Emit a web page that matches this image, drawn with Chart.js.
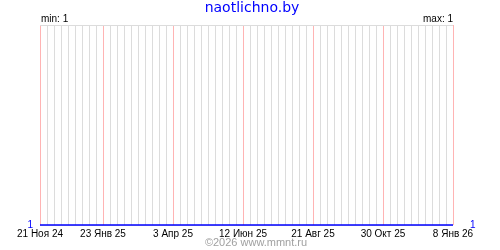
<!DOCTYPE html>
<html>
<head>
<meta charset="utf-8">
<script src="https://cdn.jsdelivr.net/npm/chart.js@4"></script>
<style>
  html, body { margin: 0; padding: 0; background: #fff; }
  #wrap { width: 500px; height: 250px; }
</style>
</head>
<body>
<div id="wrap"><canvas id="chart" width="500" height="250"></canvas></div>
<script>
// Data (x = days since 21 Nov 2024)
const tickLabels = ['21 Ноя 24', '23 Янв 25', '3 Апр 25', '12 Июн 25', '21 Авг 25', '30 Окт 25', '8 Янв 26'];
const tickDays = [0, 63, 133, 203, 273, 343, 413];
const seriesDays = [0, 63, 133, 203, 273, 343, 413];
const seriesValues = [1, 1, 1, 1, 1, 1, 1];
const titleText = 'naotlichno.by';
const minText = 'min: 1';
const maxText = 'max: 1';
const footerText = '©2026 www.mmnt.ru';

const BLUE = '#0000ff';
const GRID = '#dcdcdc';
const PINK = '#ffb4b4';

Chart.defaults.font.family = '"Liberation Sans", Arial, sans-serif';
Chart.defaults.font.size = 10;
Chart.defaults.color = '#000';

// extra texts around the plot
const textPlugin = {
  id: 'texts',
  afterDraw(chart) {
    const { ctx, chartArea } = chart;
    ctx.save();
    ctx.textBaseline = 'middle';
    ctx.font = '14px "DejaVu Sans", sans-serif';
    ctx.fillStyle = BLUE;
    ctx.textAlign = 'center';
    ctx.fillText(titleText, 252, 8);

    ctx.font = '10px "Liberation Sans", Arial, sans-serif';
    ctx.fillStyle = '#000';
    ctx.textAlign = 'left';
    ctx.fillText(minText, chartArea.left + 1, 19);
    ctx.textAlign = 'right';
    ctx.fillText(maxText, chartArea.right, 19);

    ctx.font = '11px "Liberation Sans", Arial, sans-serif';
    ctx.fillStyle = '#a0a0a0';
    ctx.textAlign = 'center';
    ctx.fillText(footerText, 256, 243);
    ctx.restore();
  }
};

new Chart(document.getElementById('chart'), {
  type: 'line',
  data: {
    datasets: [{
      data: seriesDays.map((d, i) => ({ x: d, y: seriesValues[i] })),
      borderColor: BLUE,
      borderWidth: 1.5,
      pointRadius: 0,
      clip: 4
    }]
  },
  options: {
    responsive: false,
    animation: false,
    layout: { padding: { top: 25, left: 0, right: 0, bottom: 0 } },
    plugins: { legend: { display: false }, tooltip: { enabled: false } },
    scales: {
      x: {
        type: 'linear',
        min: tickDays[0],
        max: tickDays[tickDays.length - 1],
        afterBuildTicks(scale) {
          const ticks = [];
          for (let d = scale.min; d <= scale.max; d += 7) ticks.push({ value: d });
          scale.ticks = ticks;
        },
        afterFit(scale) { scale.height = 25; },
        border: { display: false },
        grid: {
          drawTicks: false,
          color: c => (c.tick && tickDays.includes(c.tick.value)) ? PINK : GRID
        },
        ticks: {
          autoSkip: false,
          maxRotation: 0,
          padding: 3,
          callback: v => {
            const i = tickDays.indexOf(v);
            return i >= 0 ? tickLabels[i] : '';
          }
        }
      },
      y: {
        position: 'left',
        min: 1,
        max: 2,
        afterBuildTicks(scale) { scale.ticks = [{ value: 1 }, { value: 2 }]; },
        afterFit(scale) { scale.width = 40; },
        border: { display: false },
        grid: { drawTicks: false, color: GRID },
        ticks: {
          color: BLUE,
          padding: 7,
          callback: v => v === 1 ? '1' : ''
        }
      },
      y2: {
        position: 'right',
        min: 1,
        max: 2,
        afterBuildTicks(scale) { scale.ticks = [{ value: 1 }]; },
        afterFit(scale) { scale.width = 47; },
        border: { display: false },
        grid: { display: false },
        ticks: {
          color: BLUE,
          padding: 9,
          callback: v => v === 1 ? '1' : ''
        }
      }
    }
  },
  plugins: [textPlugin]
});
</script>
</body>
</html>
